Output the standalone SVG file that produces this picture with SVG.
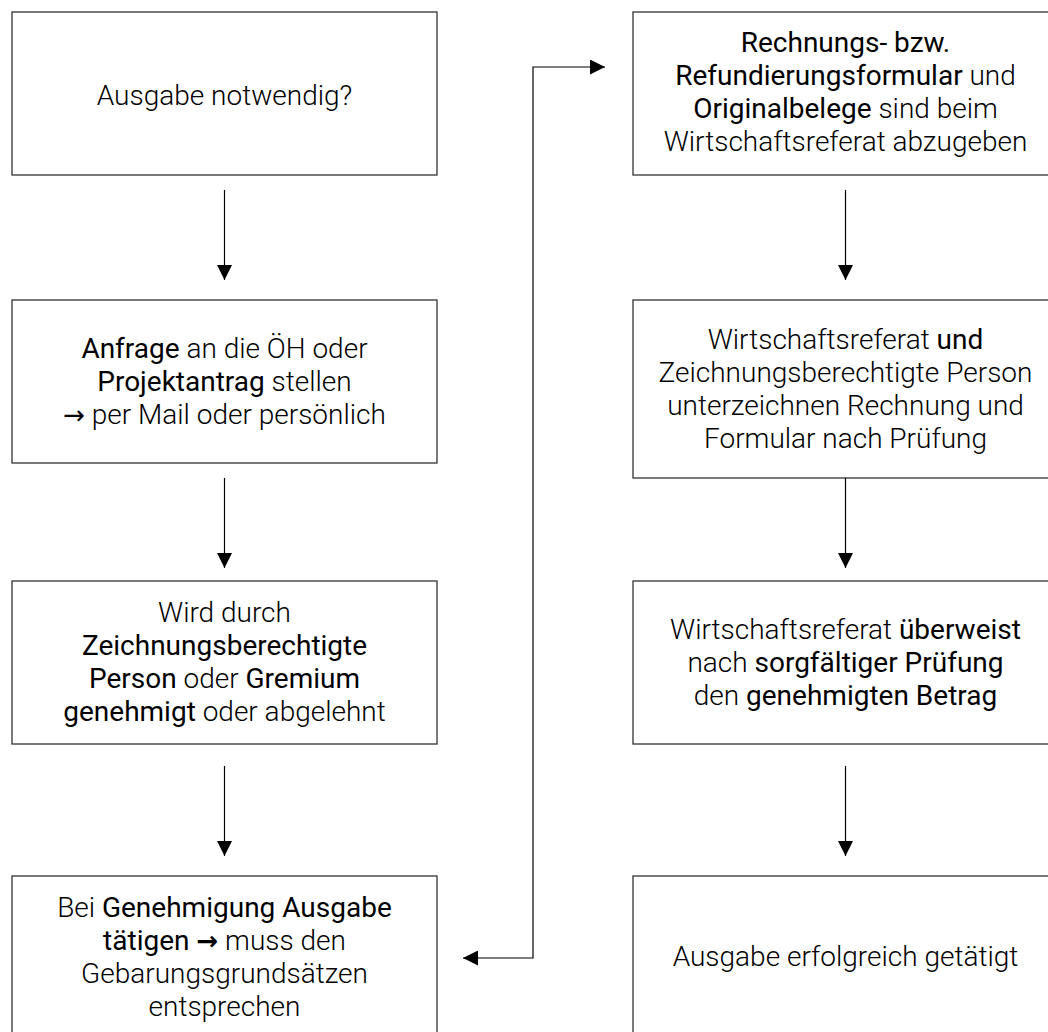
<svg xmlns="http://www.w3.org/2000/svg" width="1048" height="1032" viewBox="0 0 1048 1032">
  <style>
    .box { fill: #ffffff; stroke: #333333; stroke-width: 1.3; }
    .t { font-family: Roboto, "Open Sans", "Liberation Sans", sans-serif; font-size: 28px; font-weight: 300; fill: #000000; text-anchor: middle; }
    .b { font-weight: 400; }
    .ar { font-family: "DejaVu Sans", sans-serif; font-size: 26px; font-weight: 400; }
    .arb { font-family: "DejaVu Sans", sans-serif; font-size: 26px; font-weight: 700; }
    .conn { fill: none; stroke: #000000; stroke-width: 1.2; }
  </style>
  <defs>
    <marker id="ah" markerUnits="userSpaceOnUse" markerWidth="15" markerHeight="15" refX="15" refY="7.5" orient="auto-start-reverse" viewBox="0 0 15 15">
      <path d="M0,0 L15,7.5 L0,15 Z" fill="#000000"/>
    </marker>
  </defs>
  <rect x="0" y="0" width="1048" height="1032" fill="#ffffff"/>

  <g id="n1">
    <rect class="box" x="12" y="12" width="425" height="163"/>
    <text class="t" x="224.5" y="104.5">Ausgabe notwendig?</text>
  </g>
  <g id="n2">
    <rect class="box" x="12" y="300" width="425" height="163"/>
    <text class="t" x="224.5" y="357.5"><tspan class="b">Anfrage</tspan> an die ÖH oder</text>
    <text class="t" x="224.5" y="390.5"><tspan class="b">Projektantrag</tspan> stellen</text>
    <text class="t" x="224.5" y="423.5"><tspan class="ar">→</tspan> per Mail oder persönlich</text>
  </g>
  <g id="n3">
    <rect class="box" x="12" y="581" width="425" height="163"/>
    <text class="t" x="224.5" y="622">Wird durch</text>
    <text class="t" x="224.5" y="655"><tspan class="b">Zeichnungsberechtigte</tspan></text>
    <text class="t" x="224.5" y="688"><tspan class="b">Person</tspan> oder <tspan class="b">Gremium</tspan></text>
    <text class="t" x="224.5" y="721"><tspan class="b">genehmigt</tspan> oder abgelehnt</text>
  </g>
  <g id="n4">
    <rect class="box" x="12" y="876" width="425" height="163"/>
    <text class="t" x="224.5" y="917">Bei <tspan class="b">Genehmigung Ausgabe</tspan></text>
    <text class="t" x="224.5" y="950"><tspan class="b">tätigen </tspan><tspan class="arb">→</tspan> muss den</text>
    <text class="t" x="224.5" y="983">Gebarungsgrundsätzen</text>
    <text class="t" x="224.5" y="1016">entsprechen</text>
  </g>
  <g id="n5">
    <rect class="box" x="633" y="12" width="425" height="163"/>
    <text class="t" x="845.5" y="51.5"><tspan class="b">Rechnungs- bzw.</tspan></text>
    <text class="t" x="845.5" y="84.5"><tspan class="b">Refundierungsformular</tspan> und</text>
    <text class="t" x="845.5" y="117.5"><tspan class="b">Originalbelege</tspan> sind beim</text>
    <text class="t" x="845.5" y="150.5">Wirtschaftsreferat abzugeben</text>
  </g>
  <g id="n6">
    <rect class="box" x="633" y="300" width="425" height="178"/>
    <text class="t" x="845.5" y="348.5">Wirtschaftsreferat <tspan class="b">und</tspan></text>
    <text class="t" x="845.5" y="381.5">Zeichnungsberechtigte Person</text>
    <text class="t" x="845.5" y="414.5">unterzeichnen Rechnung und</text>
    <text class="t" x="845.5" y="447.5">Formular nach Prüfung</text>
  </g>
  <g id="n7">
    <rect class="box" x="633" y="581" width="425" height="163"/>
    <text class="t" x="845.5" y="638.5">Wirtschaftsreferat <tspan class="b">überweist</tspan></text>
    <text class="t" x="845.5" y="671.5">nach <tspan class="b">sorgfältiger Prüfung</tspan></text>
    <text class="t" x="845.5" y="704.5">den <tspan class="b">genehmigten Betrag</tspan></text>
  </g>
  <g id="n8">
    <rect class="box" x="633" y="876" width="425" height="163"/>
    <text class="t" x="845.5" y="966">Ausgabe erfolgreich getätigt</text>
  </g>

  <g id="connectors">
    <path class="conn" d="M224.5,190 V280" marker-end="url(#ah)"/>
    <path class="conn" d="M224.5,478 V568" marker-end="url(#ah)"/>
    <path class="conn" d="M224.5,766 V856" marker-end="url(#ah)"/>
    <path class="conn" d="M463,958 H533 V67 H605" marker-start="url(#ah)" marker-end="url(#ah)"/>
    <path class="conn" d="M845.5,190 V280" marker-end="url(#ah)"/>
    <path class="conn" d="M845.5,478 V568" marker-end="url(#ah)"/>
    <path class="conn" d="M845.5,766 V856" marker-end="url(#ah)"/>
  </g>
</svg>
